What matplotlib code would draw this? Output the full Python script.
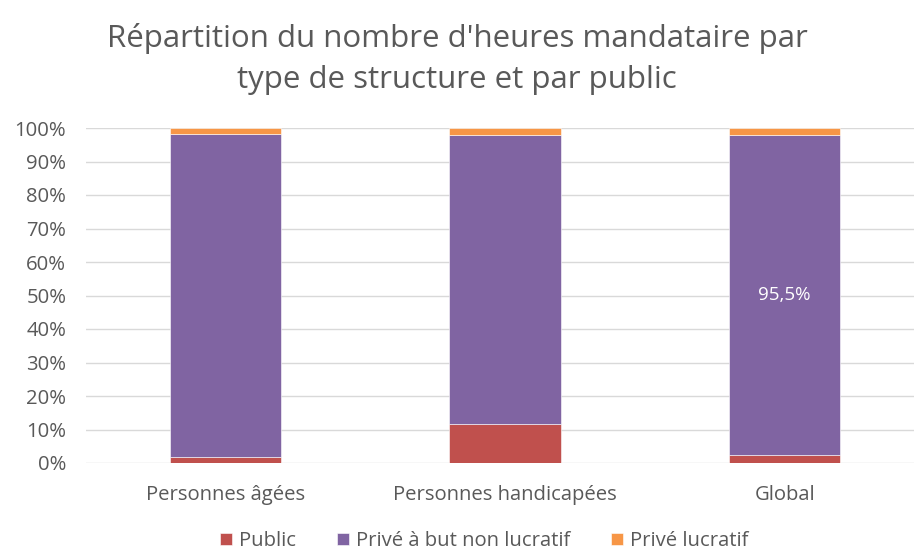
import matplotlib.pyplot as plt
from matplotlib.ticker import PercentFormatter

plt.rcParams['font.family'] = ['Open Sans', 'DejaVu Sans']

categories = ["Personnes âgées", "Personnes handicapées", "Global"]
series_names = ["Public", "Privé à but non lucratif", "Privé lucratif"]
public = [1.9, 11.6, 2.5]
prive_non_lucratif = [96.3, 86.2, 95.5]
prive_lucratif = [1.8, 2.2, 2.0]
colors = ["#C0504D", "#8064A2", "#F79646"]

fig = plt.figure(figsize=(9.14, 5.56), dpi=100)
ax = fig.add_axes([85.75 / 914, 93 / 556, (914 - 85.75) / 914, 335 / 556])

x = range(len(categories))
bottom = [0, 0, 0]
for vals, name, c in zip([public, prive_non_lucratif, prive_lucratif], series_names, colors):
    ax.bar(x, [v / 100 for v in vals], bottom=bottom, width=0.4, color=c,
           label=name, edgecolor="white", linewidth=0.4, zorder=3)
    bottom = [bt + v / 100 for bt, v in zip(bottom, vals)]

# étiquette de la barre "Global"
ax.text(2, (public[2] + prive_non_lucratif[2] / 2) / 100,
        f"{prive_non_lucratif[2]:.1f}%".replace(".", ","),
        ha="center", va="center", color="white", fontsize=13.5, zorder=4)

ax.set_xlim(-0.5, 2.463)
ax.set_ylim(0, 1)
ax.set_yticks([i / 10 for i in range(11)])
ax.yaxis.set_major_formatter(PercentFormatter(1.0, decimals=0))
ax.set_xticks(list(x))
ax.set_xticklabels(categories)
ax.tick_params(axis="both", length=0, labelsize=14.6, colors="#595959")
ax.tick_params(axis="y", pad=14)
ax.tick_params(axis="x", pad=16)
ax.grid(axis="y", color="#D9D9D9", linewidth=1, zorder=0)
for s in ax.spines.values():
    s.set_visible(False)

fig.suptitle("Répartition du nombre d'heures mandataire par\ntype de structure et par public",
             y=0.958, fontsize=22.5, color="#595959", linespacing=1.45)

fig.legend(loc="lower center", bbox_to_anchor=(0.53, -0.024), ncol=3, frameon=False,
           fontsize=14.6, labelcolor="#595959", handlelength=0.6, handleheight=0.6,
           handletextpad=0.35, columnspacing=2.0)

fig.savefig("out.png", dpi=100)
